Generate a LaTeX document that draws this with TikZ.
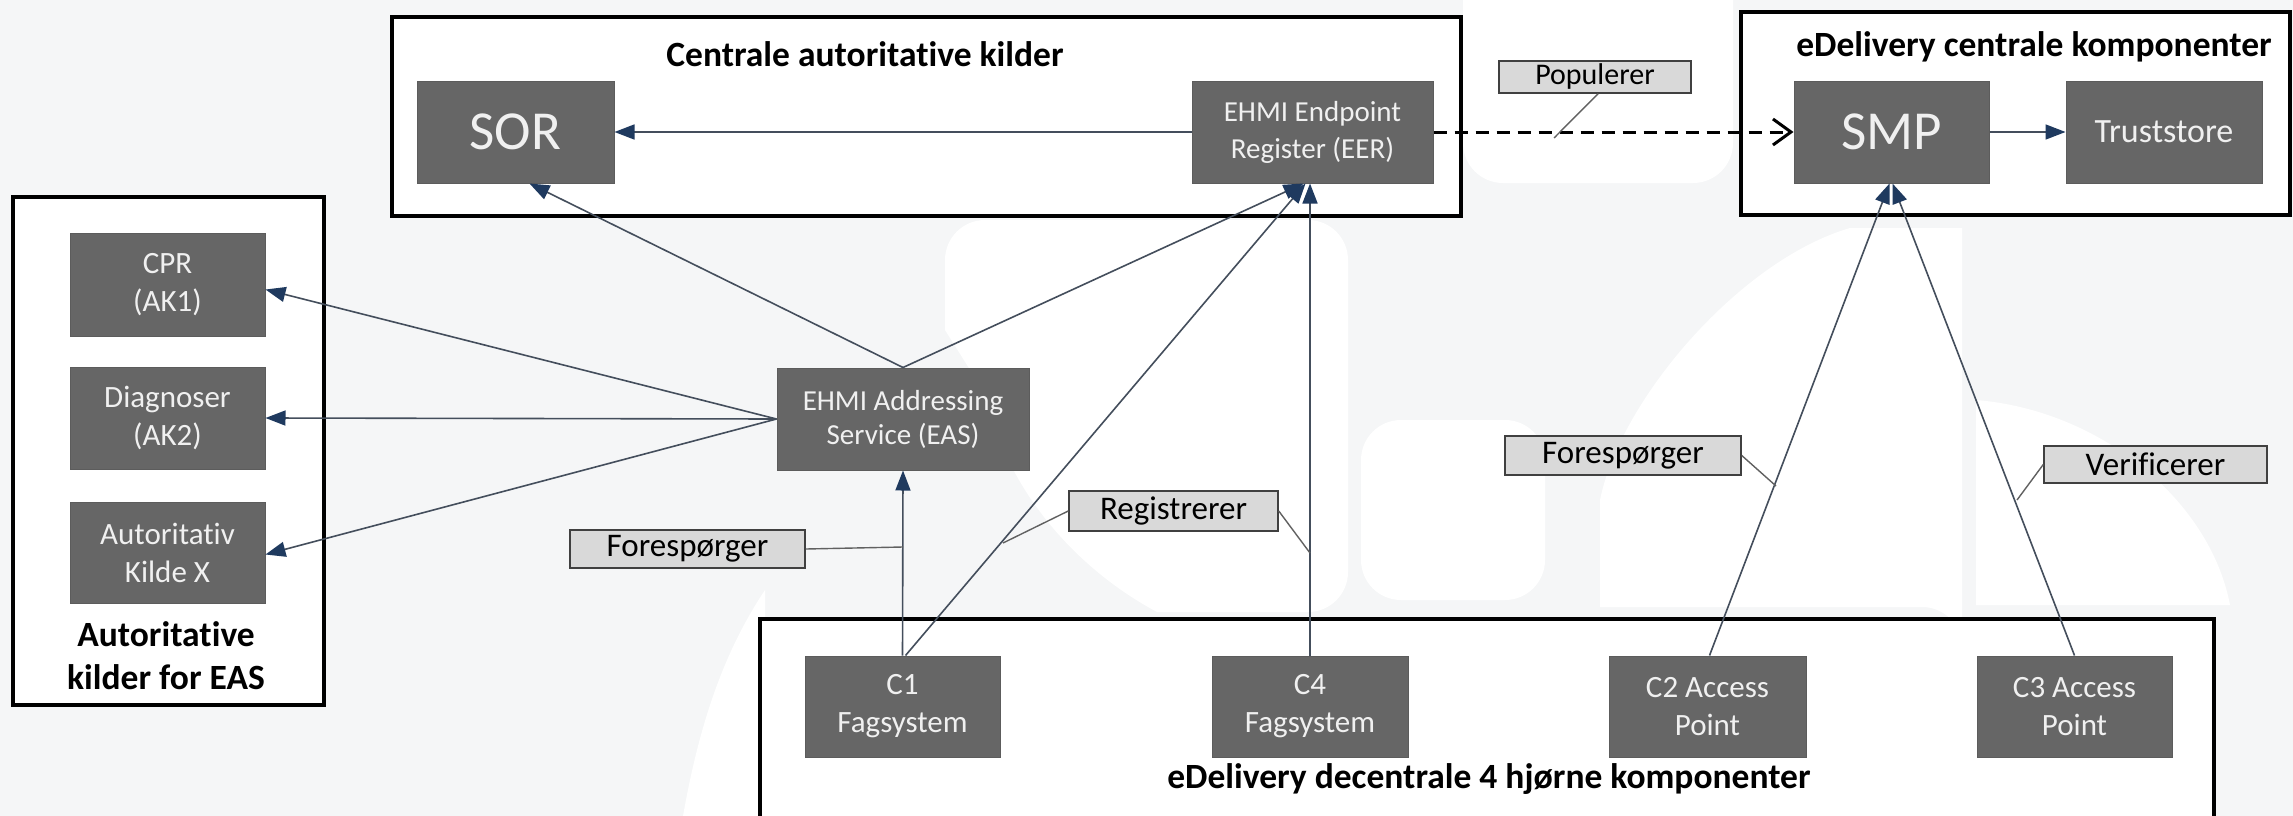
\documentclass[tikz,border=0pt]{standalone}
\usepackage{fontspec}
\setmainfont{Carlito}[Ligatures=NoCommon]
\usetikzlibrary{arrows.meta,calc}
\definecolor{bgc}{HTML}{F5F6F7}
\definecolor{boxg}{HTML}{666666}
\definecolor{boxedge}{HTML}{5C5C5C}
\definecolor{lblg}{HTML}{D9D9D9}
\definecolor{linec}{HTML}{444E5C}
\definecolor{tipc}{HTML}{1F3A5F}
\begin{document}
\begin{tikzpicture}[x=1pt,y=-1pt,
  grp/.style={draw=black,line width=3.5pt,fill=white},
  gbox/.style={fill=boxg,draw=boxedge,line width=1pt,text=white!94!black,align=center,inner sep=0pt,font=\fontsize{31}{38}\selectfont},
  lbl/.style={fill=lblg,draw=black!75,line width=1.5pt,inner sep=0pt,font=\fontsize{33}{38}\selectfont},
  conn/.style={draw=linec,line width=1.6pt,-{Triangle[length=20pt,width=15pt,color=tipc]}},
  lead/.style={draw=black!62,line width=1.4pt},
  ttl/.style={font=\bfseries\fontsize{35.5}{43}\selectfont,inner sep=0pt,align=center},
  wm/.style={fill=white}
]
\useasboundingbox (0,0) rectangle (2293,816);
\clip (0,0) rectangle (2293,816);
\fill[bgc] (0,0) rectangle (2293,816);

% faint watermark shapes
\path[wm] (945,260) arc[start angle=180,end angle=270,x radius=40pt,y radius=-40pt] -- (1308,220)
  arc[start angle=270,end angle=360,x radius=40pt,y radius=-40pt] -- (1348,572)
  arc[start angle=0,end angle=90,x radius=40pt,y radius=-40pt] -- (1157,612)
  .. controls (1060,560) and (1000,470) .. (989,400) -- (945,330) -- cycle;
\path[wm] (683,816) .. controls (700,720) and (725,650) .. (765,590) -- (765,816) -- cycle;
\path[wm] (1361,460) arc[start angle=180,end angle=270,x radius=40pt,y radius=-40pt] -- (1505,420)
  arc[start angle=270,end angle=360,x radius=40pt,y radius=-40pt] -- (1545,560)
  arc[start angle=0,end angle=90,x radius=40pt,y radius=-40pt] -- (1401,600)
  arc[start angle=90,end angle=180,x radius=40pt,y radius=-40pt] -- cycle;
\path[wm] (1463,0) -- (1733,0) -- (1733,143) arc[start angle=0,end angle=90,x radius=40pt,y radius=-40pt]
  -- (1503,183) arc[start angle=90,end angle=180,x radius=40pt,y radius=-40pt] -- cycle;
\path[wm] (1962,228) -- (1850,228) .. controls (1740,260) and (1620,400) .. (1600,500) -- (1600,607) -- (1922,607)
  arc[start angle=90,end angle=0,x radius=40pt,y radius=40pt] -- cycle;
\path[wm] (1976,605) -- (1976,400) .. controls (2100,410) and (2210,500) .. (2230,605) -- cycle;

% group boxes
\draw[grp] (392,17) rectangle (1461,216);
\draw[grp] (1741,12) rectangle (2290,215);
\draw[grp] (13,197) rectangle (324,705);
\draw[grp] (760,619) rectangle (2214,840);

% titles
\node[ttl] (tC) at (865,54) {Centrale autoritative kilder};
\node[ttl] (tE) at (2034,47) {eDelivery centrale komponenter};
\node[ttl] (tA) at (166,656) {Autoritative\\kilder for EAS};
\node[ttl] (tD) at (1489,779) {eDelivery decentrale 4 hjørne komponenter};

% component boxes
\node[gbox,minimum width=197pt,minimum height=102pt,font=\fontsize{55}{60}\selectfont] (SOR) at (515.5,132) {SOR};
\node[gbox,minimum width=241pt,minimum height=102pt,font=\fontsize{29}{37}\selectfont] (EER) at (1312.5,132) {EHMI Endpoint\\Register (EER)};
\node[gbox,minimum width=195pt,minimum height=102pt,font=\fontsize{55}{60}\selectfont] (SMP) at (1891.5,132) {SMP};
\node[gbox,minimum width=196pt,minimum height=102pt,font=\fontsize{34}{40}\selectfont] (TS) at (2164,132) {Truststore};
\node[gbox,minimum width=195pt,minimum height=103pt] (CPR) at (167.5,284.5) {CPR\\(AK1)};
\node[gbox,minimum width=195pt,minimum height=102pt] (DIA) at (167.5,418) {Diagnoser\\(AK2)};
\node[gbox,minimum width=195pt,minimum height=101pt] (AKX) at (167.5,552.5) {Autoritativ\\Kilde X};
\node[gbox,minimum width=252pt,minimum height=102pt,font=\fontsize{29}{34}\selectfont] (EAS) at (903,419) {EHMI Addressing\\Service (EAS)};
\node[gbox,minimum width=195pt,minimum height=101pt] (C1) at (902.5,706.5) {C1\\Fagsystem};
\node[gbox,minimum width=196pt,minimum height=101pt] (C4) at (1310,706.5) {C4\\Fagsystem};
\node[gbox,minimum width=197pt,minimum height=101pt] (C2) at (1707.5,706.5) {C2 Access\\Point};
\node[gbox,minimum width=195pt,minimum height=101pt] (C3) at (2074.5,706.5) {C3 Access\\Point};

% labels
\node[lbl,minimum width=192pt,minimum height=32pt,font=\fontsize{30}{34}\selectfont] (lPop) at (1595,77) {Populerer};
\node[lbl,minimum width=235pt,minimum height=38pt] (lF1) at (687.5,549) {Forespørger};
\node[lbl,minimum width=209pt,minimum height=40pt] (lReg) at (1173.5,511) {Registrerer};
\node[lbl,minimum width=236pt,minimum height=39pt] (lF2) at (1623,455.5) {Forespørger};
\node[lbl,minimum width=223pt,minimum height=37pt] (lVer) at (2155.5,464.5) {Verificerer};

% connectors
\draw[conn] (EER.west) -- (SOR.east);
\draw[conn] (SMP.east) -- (TS.west);
\draw[black,line width=3pt,dash pattern=on 13pt off 8pt,-{Straight Barb[length=18pt,width=26pt,line width=3pt]}] (EER.east) -- (SMP.west);
\draw[conn] (EAS.north) -- ([xshift=14pt]SOR.south);
\draw[conn] (EAS.north) -- ([xshift=-9pt]EER.south);
\draw[conn] (EAS.west) -- ([yshift=-5pt]CPR.east);
\draw[conn] (EAS.west) -- (DIA.east);
\draw[conn] (EAS.west) -- ([yshift=-2pt]AKX.east);
\draw[conn] (C1.north) -- (EAS.south);
\draw[conn] ([xshift=3pt]C1.north) -- ([xshift=-7pt]EER.south);
\draw[conn] (C4.north) -- (C4.north |- EER.south);
\draw[conn] ([xshift=2pt]C2.north) -- ([xshift=-2pt]SMP.south);
\draw[conn] (C3.north) -- ([xshift=1pt]SMP.south);

% leader points on connectors
\coordinate (pPop) at (1554,138);
\coordinate (pF1) at (903,547);
\coordinate (pR1) at (1003,543);
\coordinate (pR2) at (1310,553);
\coordinate (pF2) at (1776,486);
\coordinate (pV) at (2017,500);
\draw[lead] ([xshift=3pt]lPop.south) -- (pPop);
\draw[lead] (lF1.east) -- (pF1);
\draw[lead] (lReg.west) -- (pR1);
\draw[lead] (lReg.east) -- (pR2);
\draw[lead] (lF2.east) -- (pF2);
\draw[lead] (lVer.west) -- (pV);
\end{tikzpicture}
\end{document}
